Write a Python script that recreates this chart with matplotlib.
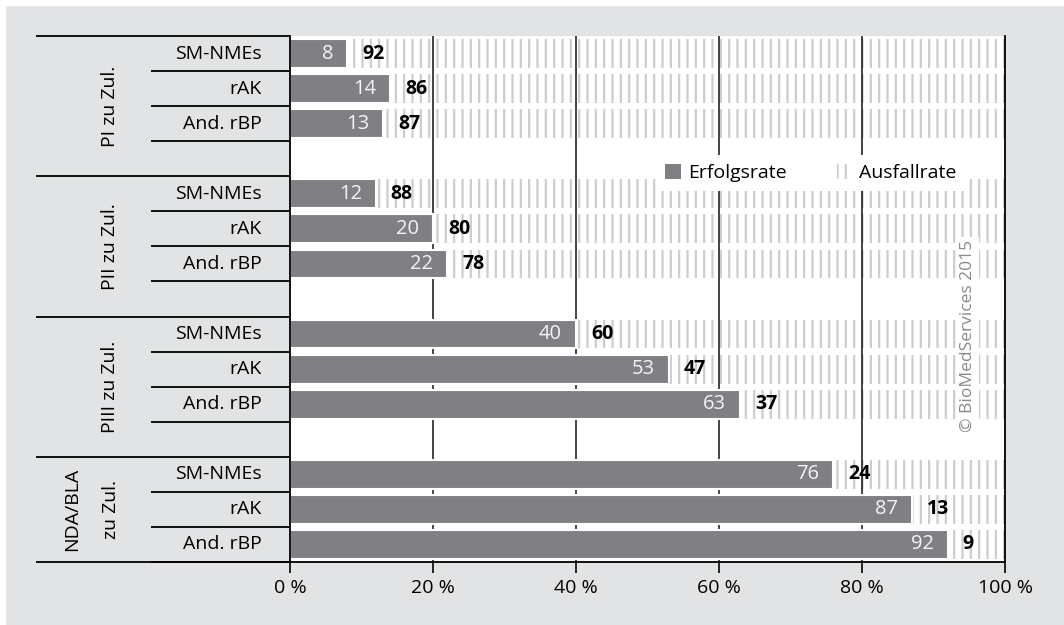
import matplotlib
matplotlib.use('Agg')
import matplotlib.pyplot as plt
import matplotlib.transforms as mtransforms
from matplotlib.patches import Patch, Rectangle

# Phase transition success / failure rates (percent)
groups = ['PI zu Zul.', 'PII zu Zul.', 'PIII zu Zul.', 'NDA/BLA\nzu Zul.']
categories = ['SM-NMEs', 'rAK', 'And. rBP']
erfolg = [[8, 14, 13], [12, 20, 22], [40, 53, 63], [76, 87, 92]]
ausfall = [[92, 86, 87], [88, 80, 78], [60, 47, 37], [24, 13, 9]]
ticks = [0, 20, 40, 60, 80, 100]

BG = '#e2e3e4'
BAR = '#808084'
HATCH = '#cdcdcd'
FS = 14

plt.rcParams['font.family'] = ['Open Sans', 'DejaVu Sans']
plt.rcParams['hatch.linewidth'] = 1.6

fig = plt.figure(figsize=(10.64, 6.25), dpi=100, facecolor=BG)
# thin white strips along the top and left edge
fig.patches.append(Rectangle((0, 0), 5 / 1064, 1, transform=fig.transFigure,
                             color='white', zorder=0))
fig.patches.append(Rectangle((0, 1 - 5 / 625), 1, 5 / 625, transform=fig.transFigure,
                             color='white', zorder=0))

ax = fig.add_axes([290 / 1064, 1 - 562 / 625, 715 / 1064, 526 / 625])
ax.set_facecolor('white')

rows_per_group = 4  # three categories plus an empty spacer row
n_slots = rows_per_group * (len(groups) - 1) + len(categories)
ax.set_ylim(n_slots - 0.5, -0.5)
ax.set_xlim(0, 100)

trans = mtransforms.blended_transform_factory(ax.transAxes, ax.transData)

for g, grp in enumerate(groups):
    base = g * rows_per_group
    ys = [base + c for c in range(len(categories))]
    ok = erfolg[g]
    ko = ausfall[g]

    # failure rate: hatched bar starting where the success bar ends
    ax.barh(ys, ko, left=ok, height=0.82, facecolor='none', edgecolor=HATCH,
            linewidth=0, hatch='||', zorder=1)
    # success rate bar
    ax.barh(ys, ok, height=0.82, color=BAR, edgecolor='white', linewidth=1.5,
            zorder=3)

    for y, s, f in zip(ys, ok, ko):
        ax.annotate(str(s), (s, y), xytext=(-14, 0), textcoords='offset pixels',
                    ha='right', va='center', fontsize=FS + 0.5,
                    color='#f4f4f4', zorder=5)
        ax.annotate(str(f), (s, y), xytext=(15, 0), textcoords='offset pixels',
                    ha='left', va='center', fontsize=FS, fontweight='bold',
                    color='black', zorder=5)

    # category labels and separator lines on the left
    for y, cat in zip(ys, categories):
        ax.text(-0.039, y, cat, transform=trans, ha='right', va='center',
                fontsize=FS)
        ax.plot([-0.1944, 0], [y + 0.5, y + 0.5], transform=trans,
                color='black', lw=1.3, clip_on=False, solid_capstyle='butt')
    ax.plot([-0.3552, 0], [base - 0.5, base - 0.5], transform=trans,
            color='black', lw=1.3, clip_on=False, solid_capstyle='butt')

    # group label, rotated
    gx = -0.2776 if '\n' in grp else -0.2517
    gy = base + (rows_per_group - 1) / 2 if g < len(groups) - 1 else base + 1
    ax.text(gx, gy, grp, transform=trans, rotation=90, ha='center', va='center',
            multialignment='center', linespacing=2.5, fontsize=FS)

ax.plot([-0.3552, 0], [n_slots - 0.5, n_slots - 0.5], transform=trans,
        color='black', lw=1.3, clip_on=False, solid_capstyle='butt')

# vertical grid lines between the bars
for t in ticks[1:-1]:
    ax.axvline(t, color='#111111', lw=1.1, zorder=2)

ax.set_xticks(ticks)
ax.set_xticklabels([f'{t} %' for t in ticks], fontsize=FS)
ax.set_yticks([])
ax.tick_params(axis='x', length=8, width=1.2, color='black', pad=4)

ax.spines['top'].set_visible(False)
for side in ['left', 'bottom', 'right']:
    ax.spines[side].set_linewidth(1.3)
    ax.spines[side].set_color('black')
    ax.spines[side].set_zorder(6)

# legend
handles = [Patch(facecolor=BAR, edgecolor=BAR, linewidth=0),
           Patch(facecolor='white', edgecolor=HATCH, linewidth=0, hatch='||')]
leg = ax.legend(handles, ['Erfolgsrate', 'Ausfallrate'], ncol=2,
                loc='center', bbox_to_anchor=(811 / 1064, 1 - 173 / 625),
                bbox_transform=fig.transFigure, frameon=True, fancybox=False,
                framealpha=1, facecolor='white', edgecolor='none',
                fontsize=FS, handlelength=0.8, handleheight=0.8,
                handletextpad=0.35, columnspacing=2.6, borderpad=0.45,
                borderaxespad=0)
leg.set_zorder(7)

# copyright note
ax.text(968 / 1064, 1 - 336 / 625, '© BioMedServices 2015', transform=fig.transFigure,
        rotation=90, ha='center', va='center', fontsize=12.5, color='#8a8a8a',
        bbox=dict(facecolor='white', edgecolor='none', pad=2), zorder=7)

fig.savefig('out.png', dpi=100, facecolor=BG)
